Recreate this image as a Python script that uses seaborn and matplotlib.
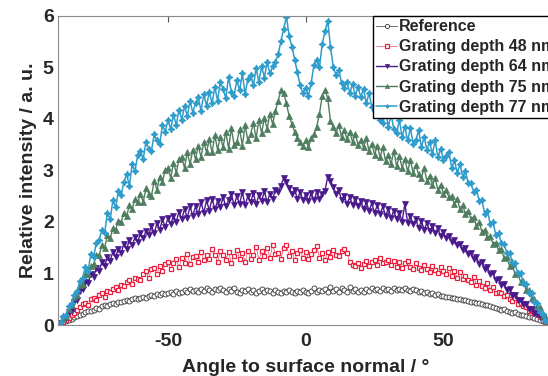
import numpy as np
import pandas as pd
import matplotlib
matplotlib.use("Agg")
import matplotlib.pyplot as plt
import seaborn as sns

angles = list(range(-90, 91))

reference = [
 0.00, 0.02, 0.05, 0.07, 0.10, 0.12, 0.15, 0.18, 0.20, 0.22,
 0.25, 0.28, 0.27, 0.30, 0.33, 0.32, 0.36, 0.38, 0.37, 0.40,
 0.42, 0.40, 0.45, 0.44, 0.47, 0.48, 0.46, 0.50, 0.52, 0.50,
 0.53, 0.55, 0.52, 0.56, 0.58, 0.57, 0.60, 0.58, 0.62, 0.60,
 0.62, 0.64, 0.61, 0.66, 0.63, 0.65, 0.68, 0.64, 0.70, 0.66,
 0.68, 0.65, 0.70, 0.66, 0.72, 0.68, 0.64, 0.70, 0.67, 0.72,
 0.68, 0.64, 0.70, 0.66, 0.72, 0.65, 0.62, 0.68, 0.66, 0.70,
 0.65, 0.68, 0.62, 0.66, 0.70, 0.64, 0.68, 0.66, 0.63, 0.67,
 0.65, 0.62, 0.66, 0.64, 0.68, 0.65, 0.63, 0.66, 0.64, 0.68,
 0.65, 0.62, 0.66, 0.72, 0.64, 0.68, 0.66, 0.70, 0.64, 0.74,
 0.66, 0.70, 0.64, 0.72, 0.68, 0.64, 0.74, 0.66, 0.70, 0.65,
 0.68, 0.64, 0.70, 0.66, 0.72, 0.67, 0.70, 0.66, 0.72, 0.68,
 0.70, 0.66, 0.72, 0.68, 0.70, 0.67, 0.71, 0.68, 0.66, 0.70,
 0.67, 0.64, 0.66, 0.62, 0.64, 0.60, 0.62, 0.58, 0.60, 0.56,
 0.56, 0.54, 0.55, 0.52, 0.53, 0.50, 0.51, 0.48, 0.49, 0.46,
 0.45, 0.44, 0.42, 0.43, 0.40, 0.38, 0.39, 0.36, 0.35, 0.33,
 0.32, 0.30, 0.31, 0.28, 0.26, 0.24, 0.25, 0.22, 0.20, 0.19,
 0.18, 0.16, 0.15, 0.13, 0.11, 0.10, 0.08, 0.06, 0.04, 0.02,
 0.00]

depth48 = [
 0.00, 0.03, 0.06, 0.10, 0.14, 0.20, 0.24, 0.30, 0.35, 0.40,
 0.43, 0.38, 0.50, 0.52, 0.48, 0.58, 0.62, 0.55, 0.66, 0.64,
 0.70, 0.74, 0.68, 0.78, 0.76, 0.84, 0.88, 0.80, 0.92, 0.90,
 0.88, 0.98, 1.04, 0.92, 1.08, 1.10, 0.98, 1.15, 1.04, 1.18,
 1.22, 1.08, 1.20, 1.28, 1.12, 1.30, 1.20, 1.38, 1.18, 1.32,
 1.34, 1.22, 1.42, 1.26, 1.36, 1.28, 1.48, 1.36, 1.22, 1.44,
 1.35, 1.26, 1.42, 1.20, 1.34, 1.46, 1.28, 1.40, 1.22, 1.44,
 1.28, 1.36, 1.52, 1.26, 1.44, 1.34, 1.50, 1.30, 1.55, 1.38,
 1.40, 1.28, 1.50, 1.56, 1.33, 1.44, 1.26, 1.40, 1.46, 1.30,
 1.42, 1.28, 1.38, 1.45, 1.54, 1.30, 1.40, 1.26, 1.42, 1.32,
 1.46, 1.36, 1.34, 1.44, 1.48, 1.40, 1.22, 1.16, 1.14, 1.20,
 1.10, 1.18, 1.24, 1.14, 1.22, 1.26, 1.16, 1.30, 1.20, 1.22,
 1.26, 1.16, 1.24, 1.12, 1.22, 1.10, 1.20, 1.24, 1.12, 1.08,
 1.20, 1.10, 1.06, 1.16, 1.08, 1.02, 1.14, 1.06, 1.00, 1.12,
 1.04, 0.98, 1.10, 0.96, 1.04, 0.92, 1.02, 0.90, 0.96, 0.88,
 0.84, 0.94, 0.78, 0.86, 0.76, 0.72, 0.82, 0.68, 0.74, 0.62,
 0.64, 0.62, 0.56, 0.58, 0.50, 0.46, 0.52, 0.40, 0.42, 0.36,
 0.34, 0.28, 0.30, 0.24, 0.22, 0.18, 0.15, 0.10, 0.06, 0.03,
 0.00]

depth64 = [
 0.00, 0.04, 0.12, 0.14, 0.26, 0.28, 0.44, 0.48, 0.66, 0.70,
 0.84, 0.82, 0.98, 0.94, 1.10, 1.05, 1.22, 1.15, 1.32, 1.25,
 1.42, 1.32, 1.48, 1.40, 1.58, 1.48, 1.65, 1.55, 1.70, 1.62,
 1.78, 1.68, 1.82, 1.75, 1.92, 1.78, 1.98, 1.85, 2.05, 1.90,
 2.08, 1.95, 2.12, 2.00, 2.20, 2.05, 2.25, 2.08, 2.30, 2.12,
 2.30, 2.15, 2.38, 2.18, 2.42, 2.22, 2.45, 2.25, 2.40, 2.28,
 2.48, 2.30, 2.42, 2.55, 2.32, 2.50, 2.35, 2.58, 2.32, 2.50,
 2.38, 2.56, 2.34, 2.52, 2.40, 2.60, 2.38, 2.55, 2.45, 2.62,
 2.58, 2.70, 2.85, 2.78, 2.65, 2.55, 2.62, 2.45, 2.58, 2.42,
 2.52, 2.40, 2.56, 2.42, 2.58, 2.45, 2.55, 2.60, 2.88, 2.80,
 2.68, 2.55, 2.62, 2.42, 2.50, 2.35, 2.48, 2.32, 2.45, 2.30,
 2.40, 2.25, 2.38, 2.22, 2.36, 2.18, 2.32, 2.15, 2.30, 2.12,
 2.25, 2.08, 2.22, 2.05, 2.18, 2.00, 2.35, 1.98, 2.12, 1.95,
 2.05, 1.88, 2.02, 1.85, 1.98, 1.82, 1.92, 1.78, 1.88, 1.72,
 1.80, 1.68, 1.72, 1.62, 1.65, 1.55, 1.58, 1.45, 1.50, 1.38,
 1.40, 1.28, 1.32, 1.18, 1.22, 1.08, 1.12, 0.98, 1.00, 0.88,
 0.90, 0.78, 0.80, 0.68, 0.70, 0.58, 0.58, 0.48, 0.48, 0.40,
 0.40, 0.32, 0.32, 0.24, 0.22, 0.16, 0.14, 0.08, 0.05, 0.02,
 0.00]

depth75 = [
 0.00, 0.04, 0.14, 0.18, 0.32, 0.38, 0.55, 0.58, 0.78, 0.80,
 0.98, 0.98, 1.15, 1.18, 1.36, 1.35, 1.55, 1.50, 1.74, 1.68,
 1.88, 1.85, 2.02, 2.00, 2.18, 2.12, 2.32, 2.25, 2.45, 2.38,
 2.55, 2.38, 2.65, 2.55, 2.50, 2.80, 2.62, 2.88, 2.78, 3.00,
 3.05, 2.85, 3.15, 2.95, 3.22, 3.25, 3.05, 3.35, 3.12, 3.40,
 3.22, 3.48, 3.25, 3.55, 3.35, 3.60, 3.35, 3.68, 3.40, 3.65,
 3.45, 3.75, 3.42, 3.82, 3.50, 3.55, 3.80, 3.48, 3.88, 3.58,
 3.70, 3.92, 3.62, 3.98, 3.72, 4.02, 3.80, 4.10, 3.90, 4.15,
 4.35, 4.55, 4.50, 4.30, 4.05, 3.90, 3.75, 3.62, 3.55, 3.48,
 3.58, 3.45, 3.62, 3.70, 3.85, 4.10, 4.45, 4.55, 4.40, 3.95,
 3.85, 3.72, 3.88, 3.65, 3.78, 3.60, 3.75, 3.55, 3.70, 3.50,
 3.58, 3.45, 3.62, 3.38, 3.52, 3.30, 3.48, 3.25, 3.45, 3.18,
 3.30, 3.12, 3.38, 3.08, 3.28, 3.05, 3.22, 2.98, 3.20, 2.95,
 3.10, 2.92, 2.85, 3.05, 2.80, 2.90, 2.72, 2.85, 2.62, 2.72,
 2.55, 2.62, 2.48, 2.50, 2.35, 2.45, 2.25, 2.32, 2.15, 2.22,
 2.05, 2.10, 1.92, 2.00, 1.80, 1.85, 1.70, 1.72, 1.58, 1.60,
 1.45, 1.48, 1.30, 1.32, 1.15, 1.18, 0.98, 1.00, 0.84, 0.85,
 0.68, 0.68, 0.52, 0.50, 0.36, 0.34, 0.20, 0.18, 0.06, 0.04,
 0.00]

depth77 = [
 0.00, 0.06, 0.18, 0.20, 0.36, 0.42, 0.58, 0.66, 0.85, 0.92,
 1.12, 1.05, 1.38, 1.32, 1.60, 1.65, 1.85, 1.78, 2.18, 2.05,
 2.42, 2.28, 2.60, 2.52, 2.78, 2.92, 2.70, 3.12, 2.98, 3.30,
 3.38, 3.22, 3.55, 3.42, 3.38, 3.70, 3.58, 3.52, 3.88, 3.75,
 3.98, 3.80, 4.08, 3.88, 4.18, 3.98, 4.25, 4.05, 4.35, 4.12,
 4.30, 4.42, 4.15, 4.48, 4.25, 4.52, 4.30, 4.62, 4.35, 4.72,
 4.58, 4.40, 4.82, 4.52, 4.45, 4.75, 4.55, 4.88, 4.48, 4.78,
 4.85, 4.65, 4.98, 4.72, 5.02, 4.80, 5.10, 4.88, 5.02, 5.10,
 5.25, 5.50, 5.75, 5.98, 5.60, 5.40, 5.15, 4.90, 4.65, 4.50,
 4.60, 4.45, 4.70, 5.05, 5.15, 5.00, 5.45, 5.70, 5.90, 5.40,
 5.00, 4.85, 4.95, 4.70, 4.60, 4.72, 4.50, 4.68, 4.45, 4.62,
 4.42, 4.58, 4.30, 4.50, 4.22, 4.15, 4.40, 3.98, 3.92, 4.15,
 3.85, 4.08, 3.80, 3.72, 3.98, 3.65, 3.85, 3.58, 3.82, 3.52,
 3.58, 3.78, 3.45, 3.65, 3.40, 3.55, 3.32, 3.58, 3.25, 3.42,
 3.20, 3.28, 3.35, 3.05, 3.20, 2.95, 3.12, 2.88, 2.98, 2.75,
 2.75, 2.58, 2.62, 2.40, 2.42, 2.15, 2.22, 1.95, 2.00, 1.75,
 1.78, 1.60, 1.58, 1.40, 1.40, 1.22, 1.20, 1.00, 1.00, 0.82,
 0.80, 0.62, 0.62, 0.44, 0.42, 0.26, 0.22, 0.10, 0.08, 0.03,
 0.00]

labels = ["Reference", "Grating depth 48 nm", "Grating depth 64 nm",
          "Grating depth 75 nm", "Grating depth 77 nm"]
series = [reference, depth48, depth64, depth75, depth77]

x_ticks = [-50, 0, 50]
y_ticks = [0, 1, 2, 3, 4, 5, 6]

sns.set_theme(style="white")
plt.rcParams["font.family"] = ["Liberation Sans", "DejaVu Sans"]
plt.rcParams["font.weight"] = "bold"
plt.rcParams["axes.unicode_minus"] = False

styles = [
    dict(color="#6e6e6e", marker="o", markersize=3.6, markerfacecolor="white",
         markeredgecolor="#333333", markeredgewidth=0.6, linewidth=0.7),
    dict(color="#e8213f", marker="s", markersize=3.4, markerfacecolor="white",
         markeredgecolor="#e8213f", markeredgewidth=0.9, linewidth=0.4),
    dict(color="#4a1a8c", marker="v", markersize=4.3, markerfacecolor="#4a1a8c",
         markeredgecolor="#4a1a8c", markeredgewidth=0.5, linewidth=1.0),
    dict(color="#4f7d5f", marker="^", markersize=4.3, markerfacecolor="#4f7d5f",
         markeredgecolor="#4f7d5f", markeredgewidth=0.5, linewidth=1.0),
    dict(color="#2f9ccb", marker=(4, 1, 0), markersize=5.0, markerfacecolor="#2f9ccb",
         markeredgecolor="#2f9ccb", markeredgewidth=0.6, linewidth=1.1),
]

fig = plt.figure(figsize=(5.48, 3.76), dpi=100)
ax = fig.add_axes([0.1055, 0.1356, 0.9047, 0.8226])

for lab, vals, st in zip(labels, series, styles):
    df = pd.DataFrame({"angle": angles, "value": vals})
    sns.lineplot(data=df, x="angle", y="value", ax=ax, label=lab,
                 estimator=None, sort=False, **st)

ax.set_xlim(-90, 90)
ax.set_ylim(0, 6)
ax.set_xticks(x_ticks)
ax.set_yticks(y_ticks)
ax.tick_params(direction="in", length=4, width=0.8, color="#555555",
               top=True, right=True, labelsize=14)
ax.tick_params(axis="x", pad=6)
ax.tick_params(axis="y", pad=3)
for lbl in ax.get_xticklabels() + ax.get_yticklabels():
    lbl.set_fontweight("bold")
for sp in ax.spines.values():
    sp.set_color("#8a8a8a")
    sp.set_linewidth(0.8)
ax.set_xlabel("Angle to surface normal / °", fontsize=14, fontweight="bold", labelpad=6)
ax.set_ylabel("Relative intensity / a. u.", fontsize=14, fontweight="bold", labelpad=4)

leg = ax.legend(loc="upper left", bbox_to_anchor=(373 / 548, 1 - 16 / 376),
                bbox_transform=fig.transFigure, fancybox=False, frameon=True,
                edgecolor="black", framealpha=1, borderpad=0.2,
                handlelength=1.3, handletextpad=0.15, labelspacing=0.32,
                borderaxespad=0, prop=dict(size=11.5, weight="bold"))
leg.get_frame().set_linewidth(1.0)
for h in leg.get_lines():
    h.set_markersize(3)

fig.savefig("out.png", dpi=100)
